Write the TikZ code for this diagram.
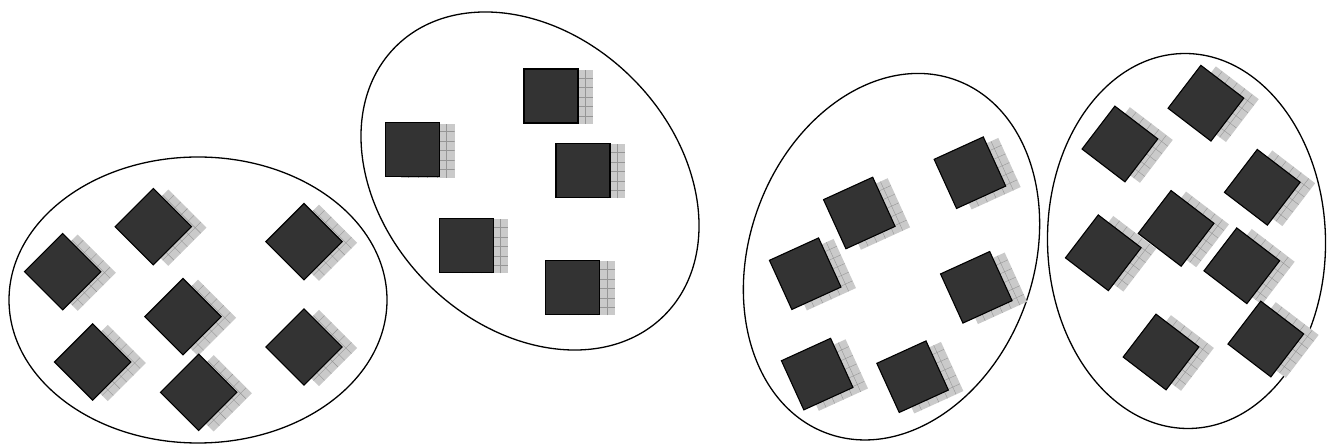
\documentclass[tikz,border=0pt]{standalone}
\usepackage{tikz}
\usetikzlibrary{shapes.geometric}
\definecolor{chipgray}{RGB}{51,51,51}
\definecolor{shadegray}{RGB}{202,202,202}
\definecolor{hatchgray}{RGB}{150,150,150}

\tikzset{
    cluster/.style={draw=black, line width=1.3pt, ellipse, inner sep=0pt},
    chip/.style={draw=black, line width=1.1pt, fill=chipgray,
        minimum size=54pt, inner sep=0pt},
    shadefill/.style={fill=shadegray},
    shadehatch/.style={draw=hatchgray, line width=0.4pt, step=9.5pt}
}

% shadow of one chip: shifted to the right, grid turned with the chip
\newcommand{\chipshadow}[3]{%
    \begin{scope}[shift={(#1+15,#2-1)}, rotate=#3]
        \fill[shadefill] (-27,-27) rectangle (27,27);
        \begin{scope}
            \clip (-27,-27) rectangle (27,27);
            \draw[shadehatch] (-27,-27) grid (27,27);
        \end{scope}
    \end{scope}}

% chip centres, one list per cluster
\def\groupA{62.7/172.3, 153.3/217.3, 304/202.3, 183/127.3, 92.7/82, 198.7/51.7, 304/97}
\def\groupB{551/348, 412.5/294.3, 583/273.7, 466.3/198.7, 572.8/156.5}
\def\groupC{969.9/271.3, 859.3/231, 805.2/170.3, 976.3/156.7, 817.2/69.9, 912.6/67.3}
\def\groupD{1119.9/300, 1205.9/340.8, 1262.3/256.7, 1176.1/215.6, 1103.3/191.2, 1241.8/178.2, 1161/92, 1265.8/105}

\begin{document}
\begin{tikzpicture}[x=1pt, y=1pt]
    \useasboundingbox (0,0) rectangle (1327,444);

    % Clusters
    \node[cluster, minimum width=378pt, minimum height=286pt] (clusterA) at (198,144) {};
    \node[cluster, minimum width=380pt, minimum height=290pt, rotate=-45] (clusterB) at (530,263) {};
    \node[cluster, minimum width=376pt, minimum height=284pt, rotate=70] (clusterC) at (891.5,187.3) {};
    \node[cluster, minimum width=375pt, minimum height=278pt, rotate=91] (clusterD) at (1186.5,203) {};

    % Shadows
    \foreach \x/\y in \groupA { \chipshadow{\x}{\y}{45} }
    \foreach \x/\y in \groupB { \chipshadow{\x}{\y}{0} }
    \foreach \x/\y in \groupC { \chipshadow{\x}{\y}{24.5} }
    \foreach \x/\y in \groupD { \chipshadow{\x}{\y}{-37.4} }

    % Chips
    \foreach \x/\y [count=\i] in \groupA {
        \node[chip, rotate=45] (chipA\i) at (\x,\y) {};
    }
    \foreach \x/\y [count=\i] in \groupB {
        \node[chip] (chipB\i) at (\x,\y) {};
    }
    \foreach \x/\y [count=\i] in \groupC {
        \node[chip, rotate=24.5] (chipC\i) at (\x,\y) {};
    }
    \foreach \x/\y [count=\i] in \groupD {
        \node[chip, rotate=-37.4] (chipD\i) at (\x,\y) {};
    }

\end{tikzpicture}
\end{document}
